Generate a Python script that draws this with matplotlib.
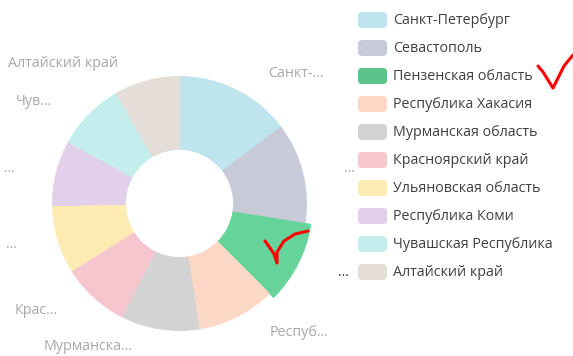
import numpy as np
import matplotlib
matplotlib.use("Agg")
import matplotlib.pyplot as plt
from matplotlib.patches import FancyBboxPatch

plt.rcParams['font.family'] = ['Open Sans', 'DejaVu Sans']

# Regions and their shares
regions = ["Санкт-Петербург", "Севастополь", "Пензенская область", "Республика Хакасия",
           "Мурманская область", "Красноярский край", "Ульяновская область",
           "Республика Коми", "Чувашская Республика", "Алтайский край"]
values = [53, 46, 36, 36, 36, 31, 31, 30, 31, 30]
slice_labels = ["Санкт-...", "...", "...", "Респуб...", "Мурманска...", "Крас...",
                "...", "...", "Чув...", "Алтайский край"]
slice_colors = ["#BEE4EE", "#C8CAD8", "#66D39A", "#FDD8C6", "#D3D3D3",
                "#F5C6CE", "#FDEBB2", "#E2D0EA", "#C4EEEE", "#E4DDD8"]
legend_colors = ["#BEE4EE", "#C8CAD8", "#5CC28A", "#FDD8C6", "#D3D3D3",
                 "#F5C6CE", "#FDEBB2", "#E2D0EA", "#C4EEEE", "#E4DDD8"]
selected = 2

W, H = 573, 356
fig = plt.figure(figsize=(W / 100, H / 100), dpi=100)
ax = fig.add_axes([0, 0, 1, 1])

cx, cy = 179.5, H - 203.5
r_out, r_in = 127, 54
wedges, _ = ax.pie(values, colors=slice_colors, startangle=90, counterclock=False,
                   radius=r_out, center=(cx, cy),
                   wedgeprops=dict(width=r_out - r_in, linewidth=0.6))
for w, c in zip(wedges, slice_colors):
    w.set_edgecolor(c)
# highlighted slice sticks out a little
wedges[selected].set_radius(r_out + 6)
wedges[selected].set_width(r_out + 6 - r_in)

# outside labels
total = sum(values)
start = 0.0
for i, (v, lab) in enumerate(zip(values, slice_labels)):
    mid = np.deg2rad(start + v / 2 * 360 / total)
    start += v * 360 / total
    R = 145 + (6 if i == selected else 0)
    x = cx + R * np.sin(mid)
    y = cy + R * np.cos(mid)
    right = np.sin(mid) >= 0
    ax.text(x + (24 if right else -24), y, lab,
            ha="left" if right else "right", va="center", fontsize=10.3,
            color="#333333" if i == selected else "#A8A8A8")

# legend
for i, (name, col) in enumerate(zip(regions, legend_colors)):
    yc = H - (20 + 28 * i)
    ax.add_patch(FancyBboxPatch((359, yc - 7), 27, 14,
                                boxstyle="round,pad=1,rounding_size=4",
                                facecolor=col, edgecolor="none"))
    ax.text(393, yc, name, ha="left", va="center", fontsize=10.3, color="#404040")

# red check marks
ck1 = np.array([[538, 66], [543, 72], [548, 80], [553, 88], [558, 78], [564, 66], [573, 55]])
ck2 = np.array([[265, 241], [270, 248], [274, 254], [277, 263], [277, 252], [284, 241],
                [295, 234], [308, 231]])
for ck in (ck1, ck2):
    ax.plot(ck[:, 0], H - ck[:, 1], color="#FF0000", lw=2.2,
            solid_capstyle="round", solid_joinstyle="round")

ax.set_xlim(0, W)
ax.set_ylim(0, H)
ax.set_aspect("auto")
ax.axis("off")
fig.savefig("out.png", dpi=100)
